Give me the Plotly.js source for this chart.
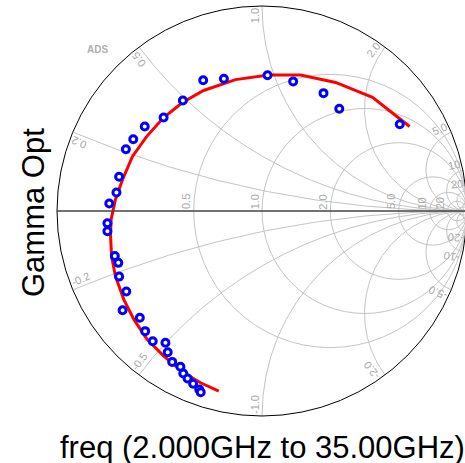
<!DOCTYPE html>
<html>
<head>
<meta charset="utf-8">
<script src="https://cdn.plot.ly/plotly-3.0.1.min.js"></script>
<style>
html, body { margin:0; padding:0; overflow:hidden; background:#fff; }
#chart { width:468px; height:463px; }
</style>
</head>
<body>
<div id="chart"></div>
<script>
// Measured Gamma Opt (reflection coefficient) points, freq 2 GHz .. 35 GHz
var gammaOptRe = [0.672,0.377,0.300,0.152,0.027,-0.186,-0.287,-0.386,-0.480,-0.572,-0.628,-0.664,-0.697,-0.710,-0.745,-0.754,-0.754,-0.718,-0.701,-0.697,-0.662,-0.680,-0.596,-0.570,-0.533,-0.471,-0.460,-0.438,-0.398,-0.384,-0.363,-0.336,-0.306,-0.299];
var gammaOptIm = [0.423,0.499,0.575,0.632,0.662,0.645,0.638,0.539,0.456,0.412,0.350,0.301,0.167,0.090,0.037,-0.060,-0.099,-0.220,-0.253,-0.320,-0.393,-0.484,-0.521,-0.586,-0.635,-0.643,-0.689,-0.736,-0.760,-0.793,-0.817,-0.843,-0.871,-0.884];
// Fitted Gamma Opt curve
var fitRe = [0.720,0.539,0.359,0.188,0.032,-0.129,-0.285,-0.388,-0.480,-0.563,-0.632,-0.680,-0.715,-0.736,-0.739,-0.734,-0.715,-0.674,-0.625,-0.560,-0.479,-0.381,-0.300,-0.211];
var fitIm = [0.412,0.554,0.627,0.663,0.663,0.641,0.588,0.529,0.456,0.363,0.266,0.154,0.056,-0.041,-0.115,-0.220,-0.318,-0.432,-0.529,-0.627,-0.708,-0.789,-0.838,-0.879];
// Grid values
var resistanceTicks = [0.5,1,2,5,10,20,50];
var resistanceLabels = ['0.5','1.0','2.0','5.0','10','20'];
var reactanceTicks = [0.2,0.5,1,2,5,10,20];
var reactanceLabels = ['0.2','0.5','1.0','2.0','5.0','10','20'];

function toZ(gr, gi) {
  var re = [], im = [];
  for (var k = 0; k < gr.length; k++) {
    var a = gr[k], b = gi[k];
    var d = (1 - a) * (1 - a) + b * b;
    re.push((1 - a * a - b * b) / d);
    im.push(2 * b / d);
  }
  return {re: re, im: im};
}
var zMeas = toZ(gammaOptRe, gammaOptIm);
var zFit = toZ(fitRe, fitIm);

var imagVals = [];
reactanceTicks.concat([50]).forEach(function (v) { imagVals.push(v); imagVals.push(-v); });

// layout geometry
var W = 468, H = 463, ML = 56, MR = 0, MT = 6, MB = 47;
var PW = W - ML - MR, PH = H - MT - MB;
var R = Math.min(PW, PH) / 2;
var CX = ML + PW / 2, CY = MT + PH / 2;
function paper(sx, sy) { return [(sx - ML) / PW, 1 - (sy - MT) / PH]; }

var FS = 11;
function textLen(s) {
  var w = 0;
  for (var i = 0; i < s.length; i++) {
    var c = s[i];
    w += (c === '.') ? 0.278 : (c === '-') ? 0.333 : 0.556;
  }
  return w * FS;
}
var labelFont = {family: 'Liberation Sans, Arial, sans-serif', size: FS, color: '#a9a9a9'};
var annotations = [];
var OFF = 7.5;
function addLabel(text, px, py, dx, dy) {
  // px,py: screen start point, (dx,dy): math direction unit vector of reading
  var L = textLen(text);
  var nx = -dy, ny = dx; // glyph "up" direction (math)
  var mx = px + dx * L / 2 + nx * OFF;
  var my = py - (dy * L / 2 + ny * OFF);
  var p = paper(mx, my);
  annotations.push({xref: 'paper', yref: 'paper', x: p[0], y: p[1], text: text,
    showarrow: false, xanchor: 'center', yanchor: 'middle',
    textangle: -Math.atan2(dy, dx) * 180 / Math.PI, font: labelFont});
}
var inset = 2;
reactanceTicks.forEach(function (x, i) {
  var gx = (x * x - 1) / (x * x + 1), gy = 2 * x / (x * x + 1);
  var phi = Math.atan2(gy, gx);
  var c = Math.cos(phi), s = Math.sin(phi);
  // positive: reading outward, ending at boundary
  var ex = CX + R * gx - c * inset, ey = CY - R * gy + s * inset;
  var L = textLen(reactanceLabels[i]);
  addLabel(reactanceLabels[i], ex - c * L, ey + s * L, c, s);
  // negative: reading inward, starting at boundary
  var nphi = -phi;
  var nc = -Math.cos(nphi), ns = -Math.sin(nphi);
  var sx = CX + R * gx + nc * inset, sy = CY + R * gy - ns * inset;
  addLabel('-' + reactanceLabels[i], sx, sy, nc, ns);
});
resistanceTicks.slice(0, resistanceLabels.length).forEach(function (r, i) {
  var gx = (r - 1) / (r + 1);
  addLabel(resistanceLabels[i], CX + R * gx, CY - 1.5, 0, 1);
});

var p;
p = paper(97.5, 49.5);
annotations.push({xref: 'paper', yref: 'paper', x: p[0], y: p[1], text: '<b>ADS</b>', showarrow: false,
  xanchor: 'center', yanchor: 'middle', font: {family: 'Liberation Sans, Arial, sans-serif', size: 10, color: '#b0b0b0'}});
p = paper(33, 213);
annotations.push({xref: 'paper', yref: 'paper', x: p[0], y: p[1], text: 'Gamma Opt', showarrow: false,
  xanchor: 'center', yanchor: 'middle', textangle: -90, font: {family: 'Liberation Sans, Arial, sans-serif', size: 31, color: '#000'}});
p = paper(262, 447);
annotations.push({xref: 'paper', yref: 'paper', x: p[0], y: p[1], text: 'freq (2.000GHz to 35.00GHz)', showarrow: false,
  xanchor: 'center', yanchor: 'middle', font: {family: 'Liberation Sans, Arial, sans-serif', size: 31, color: '#000'}});

var data = [
  {type: 'scattersmith', real: zFit.re, imag: zFit.im, mode: 'lines',
   line: {color: '#ff0000', width: 3}, hoverinfo: 'skip', showlegend: false},
  {type: 'scattersmith', real: zMeas.re, imag: zMeas.im, mode: 'markers',
   marker: {symbol: 'circle', size: 7, color: '#ffffff', line: {color: '#0000ff', width: 3}}, showlegend: false}
];

var layout = {
  width: W, height: H,
  margin: {l: ML, r: MR, t: MT, b: MB, pad: 0},
  paper_bgcolor: '#ffffff',
  showlegend: false,
  smith: {
    bgcolor: '#ffffff',
    domain: {x: [0, 1], y: [0, 1]},
    realaxis: {tickvals: resistanceTicks, showticklabels: false, ticks: '',
      gridcolor: '#c4c4c4', gridwidth: 1, showline: true, linecolor: '#444444', linewidth: 1.5},
    imaginaryaxis: {tickvals: imagVals, showticklabels: false, ticks: '',
      gridcolor: '#c4c4c4', gridwidth: 1, showline: true, linecolor: '#000000', linewidth: 1}
  },
  annotations: annotations
};

Plotly.newPlot('chart', data, layout, {displayModeBar: false, staticPlot: true});
</script>
</body>
</html>
